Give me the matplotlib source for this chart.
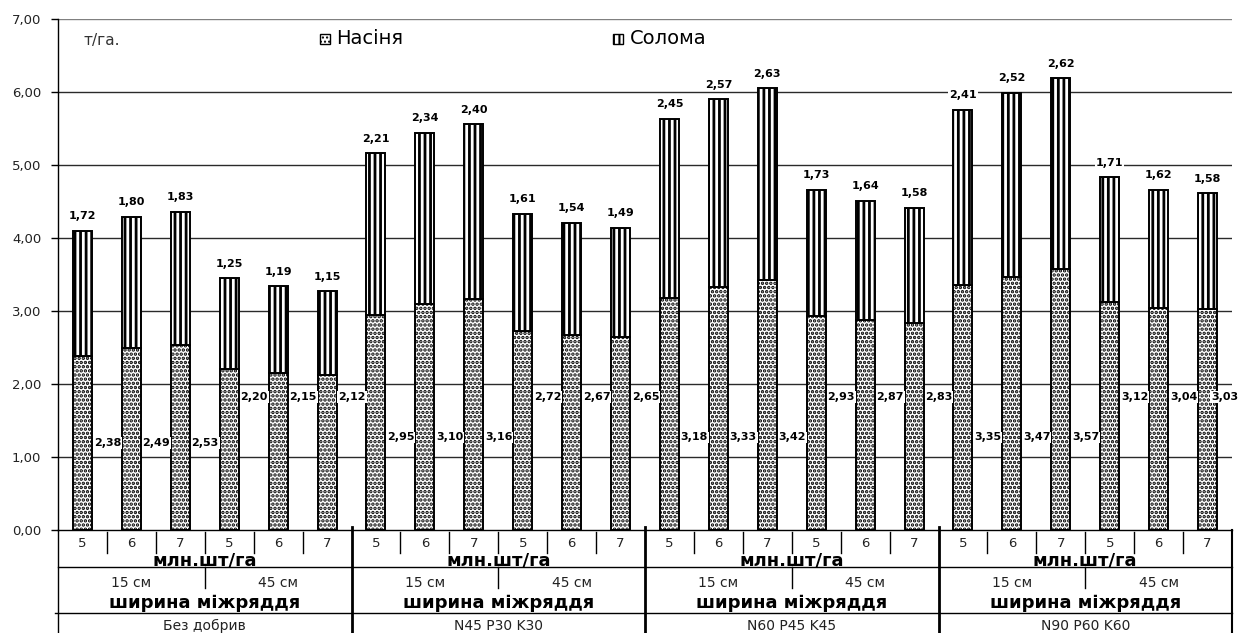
import matplotlib
matplotlib.use("Agg")
import matplotlib.pyplot as plt
from matplotlib.patches import Rectangle
import numpy as np

# ---- data -------------------------------------------------------------
fertilizers = ["Без добрив", "N45 P30 K30", "N60 P45 K45", "N90 P60 K60"]
row_spacing = ["15 см", "45 см"]
densities = ["5", "6", "7"]

seed = [2.38, 2.49, 2.53, 2.20, 2.15, 2.12,
        2.95, 3.10, 3.16, 2.72, 2.67, 2.65,
        3.18, 3.33, 3.42, 2.93, 2.87, 2.83,
        3.35, 3.47, 3.57, 3.12, 3.04, 3.03]
straw = [1.72, 1.80, 1.83, 1.25, 1.19, 1.15,
         2.21, 2.34, 2.40, 1.61, 1.54, 1.49,
         2.45, 2.57, 2.63, 1.73, 1.64, 1.58,
         2.41, 2.52, 2.62, 1.71, 1.62, 1.58]
y_ticks = [0, 1, 2, 3, 4, 5, 6, 7]

series_names = ["Насіня", "Солома"]
unit_label = "т/га."
density_title = "млн.шт/га"
spacing_title = "ширина міжряддя"


def fmt(v):
    return f"{v:.2f}".replace(".", ",")


W, H = 1248, 633
fig = plt.figure(figsize=(W / 100, H / 100), dpi=100)
fig.patch.set_facecolor("white")

# plot area in pixel terms
x0, x1, ytop, ybot = 58, 1232, 19, 530
ax = fig.add_axes([x0 / W, 1 - ybot / H, (x1 - x0) / W, (ybot - ytop) / H])

n = len(seed)
xpos = np.arange(n) + 0.5
seed_a = np.array(seed)
straw_a = np.array(straw)
bw = 0.39

ax.set_xlim(0, n)
ax.set_ylim(0, 7)

# gridlines
for t in y_ticks[1:]:
    ax.axhline(t, color="#808080" if t == 7 else "#2a2a2a", lw=1.0, zorder=0)

with plt.rc_context({"hatch.linewidth": 1.7}):
    ax.bar(xpos, seed_a, width=bw, color="white", edgecolor="black",
           hatch="....", lw=1.4, zorder=2)
with plt.rc_context({"hatch.linewidth": 2.0}):
    ax.bar(xpos, straw_a, width=bw, bottom=seed_a, color="white",
           edgecolor="black", hatch="|||", lw=1.4, zorder=2)

ax.spines[["top", "right"]].set_visible(False)
ax.spines["left"].set_linewidth(1.0)
ax.spines["bottom"].set_linewidth(1.0)
ax.set_xticks([])
ax.set_yticks(y_ticks)
ax.set_yticklabels([fmt(t) for t in y_ticks], fontsize=9.5, color="#222222")
ax.tick_params(axis="y", direction="out", length=5, width=1, pad=7)

box = dict(facecolor="white", edgecolor="none", pad=0.6)
# straw values above the bars
for i in range(n):
    ax.text(xpos[i], seed_a[i] + straw_a[i] + 0.2, fmt(straw_a[i]),
            ha="center", va="center", fontsize=8, fontweight="bold",
            bbox=box, zorder=4)
# seed values beside the bars
for i in range(n):
    g, k = divmod(i, 6)
    if k >= 3:
        ly = 1.82
    else:
        ly = 1.19 if g == 0 else 1.27
    dx = 0.35 if i == n - 1 else 0.51
    ax.text(xpos[i] + dx, ly, fmt(seed_a[i]), ha="center", va="center",
            fontsize=8, fontweight="bold", bbox=box, zorder=4)

# ---- category table under the chart ----------------------------------
tab = fig.add_axes([x0 / W, 0, (x1 - x0) / W, (H - ybot) / H])
tab.set_xlim(0, n)
tab.set_ylim(H - ybot, 0)
tab.axis("off")

lk = dict(color="black", clip_on=False)
tab.plot([0, n], [37, 37], lw=1.0, **lk)
tab.plot([-0.06, n], [83, 83], lw=1.0, **lk)
tab.plot([0, 0], [0, H - ybot], lw=1.0, **lk)
tab.plot([n, n], [0, H - ybot], lw=1.5, **lk)
for gx in (6, 12, 18):
    tab.plot([gx, gx], [-3, H - ybot], lw=2.0, **lk)
for i in range(1, n):
    if i % 6:
        tab.plot([i, i], [2, 23], lw=1.0, **lk)
for g in range(len(fertilizers)):
    tab.plot([g * 6 + 3, g * 6 + 3], [37, 58], lw=1.0, **lk)

for i in range(n):
    tab.text(xpos[i], 17, densities[i % 3], ha="center", va="baseline",
             fontsize=9.5, color="#222222")
for g, fert in enumerate(fertilizers):
    c = g * 6 + 3
    tab.text(c, 35.5, density_title, ha="center", va="baseline",
             fontsize=13, fontweight="bold")
    tab.text(g * 6 + 1.5, 57, row_spacing[0], ha="center", va="baseline",
             fontsize=10, color="#222222")
    tab.text(g * 6 + 4.5, 57, row_spacing[1], ha="center", va="baseline",
             fontsize=10, color="#222222")
    tab.text(c, 78, spacing_title, ha="center", va="baseline",
             fontsize=13, fontweight="bold")
    tab.text(c, 100, fert, ha="center", va="baseline", fontsize=10,
             color="#222222")

# ---- legend and unit caption -----------------------------------------
ov = fig.add_axes([0, 0, 1, 1], zorder=5)
ov.set_xlim(0, W)
ov.set_ylim(H, 0)
ov.axis("off")
ov.patch.set_alpha(0)

with plt.rc_context({"hatch.linewidth": 1.0}):
    ov.add_patch(Rectangle((320, 34), 10, 10, facecolor="white",
                           edgecolor="black", hatch="....", lw=1.0))
with plt.rc_context({"hatch.linewidth": 1.5}):
    ov.add_patch(Rectangle((613, 34), 10, 10, facecolor="white",
                           edgecolor="black", hatch="|||", lw=1.0))
ov.text(336, 39, series_names[0], ha="left", va="center", fontsize=14)
ov.text(630, 39, series_names[1], ha="left", va="center", fontsize=14)
ov.text(83, 40, unit_label, ha="left", va="center", fontsize=11,
        color="#333333")

fig.savefig("out.png", dpi=100)
